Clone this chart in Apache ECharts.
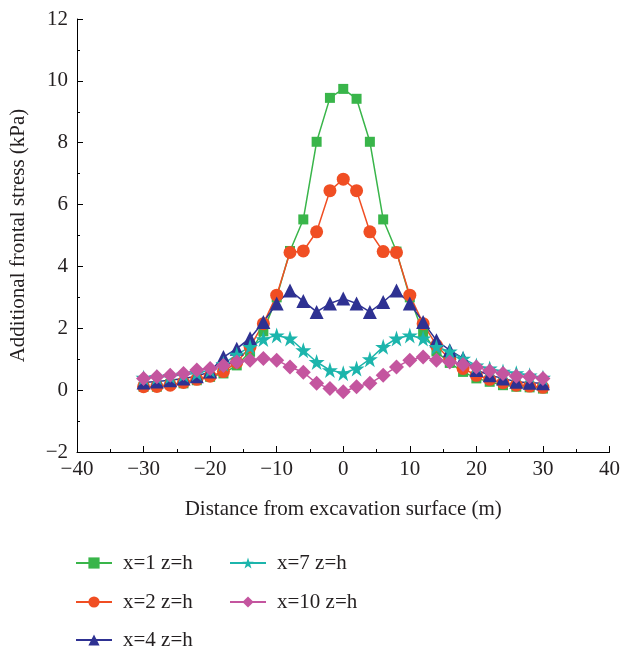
<!DOCTYPE html>
<html>
<head>
<meta charset="utf-8">
<script src="https://cdn.jsdelivr.net/npm/echarts@6/dist/echarts.min.js"></script>
<style>
  html, body { margin: 0; padding: 0; background: #fff; }
  #chart { width: 623px; height: 650px; }
</style>
</head>
<body>
<div id="chart"></div>
<script>
// Distance from the excavation surface (m), shared by every curve
const distances = [-30, -28, -26, -24, -22, -20, -18, -16, -14, -12, -10, -8, -6, -4, -2, 0,
                   2, 4, 6, 8, 10, 12, 14, 16, 18, 20, 22, 24, 26, 28, 30];

// Additional frontal stress (kPa) for each monitoring line
const seriesNames = ['x=1 z=h', 'x=2 z=h', 'x=4 z=h', 'x=7 z=h', 'x=10 z=h'];
const stressX1 = [0.11, 0.11, 0.2, 0.22, 0.32, 0.43, 0.54, 0.8, 1.24, 1.9, 3.0, 4.5, 5.52, 8.03, 9.45, 9.74,
                  9.42, 8.03, 5.52, 4.48, 3.0, 1.85, 1.25, 0.88, 0.59, 0.38, 0.27, 0.16, 0.11, 0.09, 0.05];
const stressX2 = [0.11, 0.12, 0.16, 0.25, 0.35, 0.45, 0.6, 0.9, 1.4, 2.15, 3.07, 4.45, 4.5, 5.12, 6.45, 6.82,
                  6.45, 5.12, 4.48, 4.45, 3.07, 2.15, 1.45, 1.0, 0.7, 0.48, 0.35, 0.24, 0.16, 0.13, 0.09];
const stressX4 = [0.25, 0.28, 0.32, 0.38, 0.45, 0.6, 1.07, 1.34, 1.68, 2.2, 2.8, 3.22, 2.88, 2.53, 2.8, 2.96,
                  2.8, 2.53, 2.85, 3.22, 2.8, 2.2, 1.61, 1.29, 1.03, 0.65, 0.48, 0.38, 0.27, 0.24, 0.22];
const stressX7 = [0.4, 0.42, 0.45, 0.5, 0.55, 0.65, 0.85, 1.15, 1.4, 1.65, 1.77, 1.67, 1.29, 0.91, 0.65, 0.55,
                  0.7, 1.0, 1.4, 1.67, 1.77, 1.67, 1.4, 1.25, 1.02, 0.8, 0.7, 0.6, 0.55, 0.48, 0.4];
const stressX10 = [0.38, 0.43, 0.48, 0.54, 0.65, 0.7, 0.8, 0.91, 0.97, 1.02, 0.97, 0.75, 0.58, 0.22, 0.05, -0.05,
                   0.11, 0.22, 0.48, 0.75, 0.97, 1.07, 0.97, 0.91, 0.83, 0.75, 0.62, 0.54, 0.45, 0.43, 0.38];

const colors = ['#39b54a', '#f04e23', '#2e3192', '#1cb5ac', '#c4559f'];
const starPath = 'path://M50,0 L61.2,34.5 L97.6,34.5 L68.2,55.9 L79.4,90.5 L50,69.1 L20.6,90.5 L31.8,55.9 L2.4,34.5 L38.8,34.5 Z';
const symbols = ['rect', 'circle', 'triangle', starPath, 'diamond'];
const symbolSizes = [10, 13, 14, 16, 15];
const allValues = [stressX1, stressX2, stressX4, stressX7, stressX10];

// legend slots: [left, vertical centre]
const legendSlots = [[75, 563], [75, 602], [75, 640], [229, 563], [229, 602]];

const font = '"Liberation Serif", "DejaVu Serif", serif';
const textColor = '#231f20';
const fontSize = 21;

const series = seriesNames.map((name, i) => ({
  name: name,
  type: 'line',
  data: distances.map((d, k) => [d, allValues[i][k]]),
  symbol: symbols[i],
  symbolSize: symbolSizes[i],
  showAllSymbol: true,
  itemStyle: { color: colors[i] },
  lineStyle: { color: colors[i], width: 1.5 },
  emphasis: { disabled: true },
  animation: false
}));

const legends = seriesNames.map((name, i) => ({
  data: [name],
  left: legendSlots[i][0],
  top: legendSlots[i][1] - 11,
  padding: 0,
  itemWidth: 36,
  itemHeight: 14,
  itemGap: 0,
  selectedMode: false,
  textStyle: { fontFamily: font, fontSize: fontSize, color: textColor, padding: [0, 0, 0, 6], lineHeight: 22 }
}));

const negLabel = v => (v < 0 ? '\u2212' + Math.abs(v) : String(v));

const chart = echarts.init(document.getElementById('chart'), null, { renderer: 'canvas' });
chart.setOption({
  backgroundColor: '#ffffff',
  animation: false,
  grid: { left: 76, right: 11, top: 19, bottom: 198 },
  legend: legends,
  xAxis: {
    type: 'value',
    min: -40, max: 40, interval: 10,
    name: 'Distance from excavation surface (m)',
    nameLocation: 'middle',
    nameGap: 47,
    nameTextStyle: { fontFamily: font, fontSize: fontSize, color: textColor },
    axisLine: { onZero: false, lineStyle: { color: '#000', width: 1 } },
    axisTick: { inside: true, length: 6, lineStyle: { color: '#000' } },
    minorTick: { show: true, splitNumber: 2, length: 3, lineStyle: { color: '#000' } },
    axisLabel: { fontFamily: font, fontSize: fontSize, color: textColor, margin: 7, formatter: negLabel },
    splitLine: { show: false }
  },
  yAxis: {
    type: 'value',
    min: -2, max: 12, interval: 2,
    name: 'Additional frontal stress (kPa)',
    nameLocation: 'middle',
    nameGap: 48,
    nameTextStyle: { fontFamily: font, fontSize: fontSize, color: textColor },
    axisLine: { show: true, onZero: false, lineStyle: { color: '#000', width: 1 } },
    axisTick: { show: true, inside: true, length: 6, lineStyle: { color: '#000' } },
    minorTick: { show: true, splitNumber: 2, length: 3, lineStyle: { color: '#000' } },
    axisLabel: { fontFamily: font, fontSize: fontSize, color: textColor, margin: 9, formatter: negLabel },
    splitLine: { show: false }
  },
  series: series
});
</script>
</body>
</html>
